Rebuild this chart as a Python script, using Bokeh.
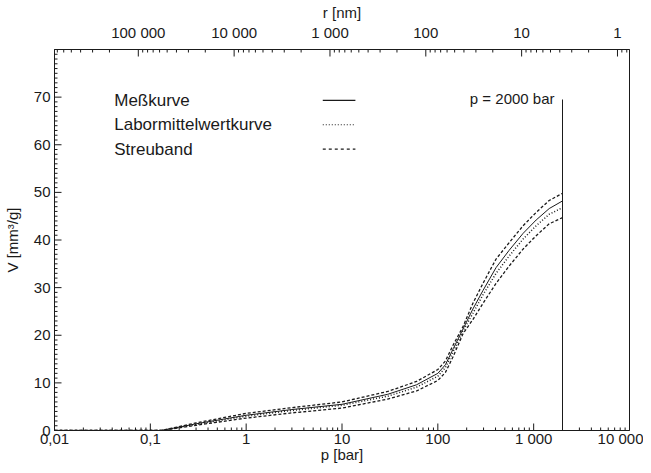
import math
from bokeh.plotting import figure
from bokeh.models import (Range1d, LogAxis, LogScale, FixedTicker, Label, Arrow,
                          CustomJSTickFormatter)
from bokeh.embed import file_html
from bokeh.resources import INLINE

# ---------------- data ----------------
p_bar = [0.01, 0.05, 0.13, 0.3, 1, 3, 10, 30, 60, 100, 120, 145, 183, 232, 296,
         405, 553, 776, 1062, 1452, 2000]
v_upper = [0, 0, 0, 1.6, 3.6, 4.8, 6.0, 8.2, 10.3, 12.8, 14.6, 18.0, 21.8, 26.7,
           30.9, 36.0, 39.4, 43.0, 45.8, 48.3, 49.8]
v_mess = [0, 0, 0, 1.4, 3.2, 4.4, 5.5, 7.6, 9.6, 12.0, 13.8, 17.2, 21.3, 25.5,
          29.4, 34.2, 37.8, 41.4, 44.2, 46.6, 48.2]
v_mittel = [0, 0, 0, 1.3, 3.0, 4.2, 5.3, 7.2, 9.1, 11.4, 13.2, 16.6, 20.9, 24.6,
            28.5, 33.0, 36.6, 40.2, 43.0, 45.4, 46.8]
v_lower = [0, 0, 0, 1.1, 2.6, 3.7, 4.7, 6.6, 8.3, 10.5, 12.2, 15.6, 20.3, 23.3,
           26.7, 30.9, 34.5, 38.1, 40.9, 43.4, 44.7]

legend_labels = ["Meßkurve", "Labormittelwertkurve", "Streuband"]

p_ticks = [0.01, 0.1, 1, 10, 100, 1000, 10000]
p_tick_labels = ["0,01", "0,1", "1", "10", "100", "1 000", "10 000"]
r_ticks = [100000, 10000, 1000, 100, 10, 1]
r_tick_labels = ["100 000", "10 000", "1 000", "100", "10", "1"]
v_ticks = [0, 10, 20, 30, 40, 50, 60, 70]

p_limit = 2000          # bar
p_limit_top = 69.5
p_limit_text = "p = 2000 bar"
washburn_k = 7490.0     # r[nm] = k / p[bar]

P_MIN, P_MAX = 0.01, 10000
V_MIN, V_MAX = 0, 80

FONT = "Liberation Sans"
INK = "#1a1a1a"

p = figure(width=643, height=465, x_axis_type="log",
           x_range=Range1d(P_MIN, P_MAX), y_range=Range1d(V_MIN, V_MAX),
           output_backend="svg", toolbar_location=None,
           min_border_left=47, min_border_right=14, min_border_top=20,
           min_border_bottom=20)
p.grid.visible = False
p.outline_line_color = INK
p.outline_line_width = 1
p.background_fill_color = "white"
p.border_fill_color = "white"


def style_axis(ax):
    ax.axis_line_color = INK
    ax.major_tick_line_color = INK
    ax.minor_tick_line_color = INK
    ax.major_tick_in = 0
    ax.major_tick_out = 0
    ax.minor_tick_in = 0
    ax.minor_tick_out = 0
    ax.major_label_text_font = FONT
    ax.major_label_text_font_size = "15px"
    ax.major_label_text_color = INK
    ax.axis_label_text_font = FONT
    ax.axis_label_text_font_size = "15px"
    ax.axis_label_text_font_style = "normal"
    ax.axis_label_text_color = INK


def decade_minors(lo_exp, hi_exp, lo, hi):
    out = []
    for e in range(lo_exp, hi_exp + 1):
        for m in range(2, 10):
            v = m * 10.0 ** e
            if lo < v < hi:
                out.append(v)
    return out


def fmt(tick_vals, labels):
    return CustomJSTickFormatter(args=dict(tvals=tick_vals, tlabs=labels), code="""
        for (let i = 0; i < tvals.length; i++) {
            if (Math.abs(Math.log10(tvals[i]) - Math.log10(tick)) < 1e-6) return tlabs[i];
        }
        return '';
    """)


p_minor = decade_minors(-2, 3, P_MIN, P_MAX)
r_lo, r_hi = washburn_k / P_MAX, washburn_k / P_MIN
r_minor = decade_minors(-1, 5, r_lo, r_hi)
v_minor = [v for v in range(V_MIN, V_MAX + 1) if v not in v_ticks]

# bottom axis
xa = p.xaxis[0]
xa.ticker = FixedTicker(ticks=p_ticks)
xa.formatter = fmt(p_ticks, p_tick_labels)
xa.axis_label = "p [bar]"
style_axis(xa)
xa.major_label_standoff = -1
xa.axis_label_standoff = -4

# left axis
ya = p.yaxis[0]
ya.ticker = FixedTicker(ticks=v_ticks)
ya.axis_label = "V [mm³/g]"
style_axis(ya)
ya.major_label_standoff = 4
ya.axis_label_standoff = 10

# top axis (pore radius)
p.extra_x_ranges = {"r": Range1d(start=r_hi, end=r_lo)}
p.extra_x_scales = {"r": LogScale()}
top = LogAxis(x_range_name="r", axis_label="r [nm]")
top.ticker = FixedTicker(ticks=r_ticks)
top.formatter = fmt(r_ticks, r_tick_labels)
style_axis(top)
top.major_label_standoff = 9
top.axis_label_standoff = 0
p.add_layout(top, "above")

# inward tick marks (drawn as rays of fixed screen length)
HALF_PI = math.pi / 2
p.ray(x=p_ticks, y=[V_MIN] * len(p_ticks), length=7, length_units="screen",
      angle=HALF_PI, line_color=INK, line_width=1)
p.ray(x=p_minor, y=[V_MIN] * len(p_minor), length=3, length_units="screen",
      angle=HALF_PI, line_color=INK, line_width=1)
r_ticks_in_p = [washburn_k / r for r in r_ticks]
r_minor_in_p = [washburn_k / r for r in r_minor]
p.ray(x=r_ticks_in_p, y=[V_MAX] * len(r_ticks), length=7, length_units="screen",
      angle=-HALF_PI, line_color=INK, line_width=1)
p.ray(x=r_minor_in_p, y=[V_MAX] * len(r_minor), length=3, length_units="screen",
      angle=-HALF_PI, line_color=INK, line_width=1)
p.ray(x=[P_MIN] * len(v_ticks), y=v_ticks, length=7, length_units="screen",
      angle=0, line_color=INK, line_width=1)
p.ray(x=[P_MIN] * len(v_minor), y=v_minor, length=3, length_units="screen",
      angle=0, line_color=INK, line_width=1)

# curves
p.line(p_bar, v_upper, line_color=INK, line_width=1.3, line_dash="3 2")
p.line(p_bar, v_lower, line_color=INK, line_width=1.3, line_dash="3 2")
p.line(p_bar, v_mess, line_color=INK, line_width=1)
p.line(p_bar, v_mittel, line_color=INK, line_width=1.5, line_dash="1 2")

# 2000 bar limit
p.segment(x0=[p_limit], y0=[V_MIN], x1=[p_limit], y1=[p_limit_top],
          line_color=INK, line_width=1)
p.add_layout(Label(x=p_limit, y=p_limit_top, x_offset=-8, y_offset=1,
                   text=p_limit_text, text_align="right",
                   text_baseline="alphabetic", text_font=FONT,
                   text_font_size="15px", text_color=INK))

# legend (text on the left, line sample on the right)
leg_x = 0.042
leg_y = [69.3, 64.2, 59.1]
leg_line_x0, leg_line_x1 = 6.3, 13.8
leg_dash = ["solid", "1 2", "3 3"]
for lab, yy, dash in zip(legend_labels, leg_y, leg_dash):
    p.add_layout(Label(x=leg_x, y=yy, text=lab, text_align="left",
                       text_baseline="middle", text_font=FONT,
                       text_font_size="17px", text_color=INK))
    p.add_layout(Arrow(x_start=leg_line_x0, y_start=yy, x_end=leg_line_x1,
                       y_end=yy, end=None, line_color=INK, line_width=1.2,
                       line_dash=dash))

open("out.html", "w").write(file_html(p, INLINE))
